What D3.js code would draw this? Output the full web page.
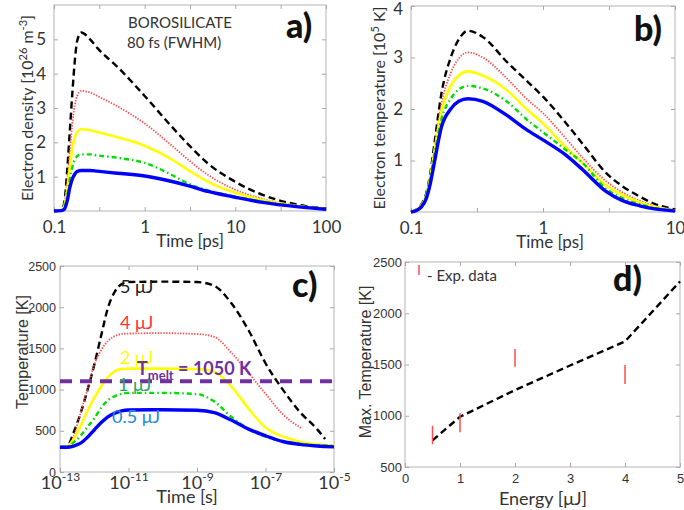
<!DOCTYPE html>
<html><head><meta charset="utf-8">
<script src="https://cdn.jsdelivr.net/npm/d3@7"></script>
<style>body{margin:0;background:#fff}svg{display:block}</style>
</head><body><svg id="c" width="684" height="510"></svg>
<script>
// ---------- DATA ----------
// Panel a: electron density [1e26 m^-3] vs time [ps]
const timeA = [0.1,0.12,0.13,0.14,0.15,0.16,0.17,0.18,0.2,0.25,0.3,0.5,1,2,3,5,10,20,50,100];
const densA5  = [0,0.02,0.25,1.2,2.4,3.5,4.4,4.95,5.2,5.0,4.75,4.2,3.35,2.45,1.95,1.38,0.85,0.47,0.18,0.07];
const densA4  = [0,0.02,0.2,0.9,1.8,2.6,3.1,3.35,3.5,3.45,3.35,3.05,2.55,1.9,1.5,1.05,0.62,0.35,0.15,0.06];
const densA2  = [0,0.02,0.15,0.6,1.3,1.85,2.15,2.3,2.38,2.35,2.3,2.15,1.9,1.5,1.2,0.85,0.53,0.32,0.14,0.06];
const densA1  = [0,0.02,0.1,0.45,0.95,1.3,1.5,1.6,1.65,1.65,1.62,1.55,1.4,1.05,0.8,0.6,0.42,0.27,0.13,0.06];
const densA05 = [0,0.01,0.05,0.3,0.7,0.95,1.08,1.15,1.18,1.18,1.16,1.1,1.02,0.86,0.74,0.57,0.4,0.25,0.12,0.05];
const ticksA = [0.1,1,10,100];

// Panel b: electron temperature [1e5 K] vs time [ps]
const timeB = [0.1,0.11,0.12,0.13,0.14,0.15,0.17,0.2,0.23,0.27,0.35,0.53,0.75,1,1.5,2,3,4,5.4,7,10];
const tempB5  = [0,0.05,0.15,0.35,0.75,1.3,2.3,3.0,3.35,3.52,3.4,2.92,2.55,2.24,1.72,1.32,0.76,0.5,0.3,0.16,0.05];
const tempB4  = [0,0.05,0.14,0.33,0.7,1.2,2.1,2.7,2.98,3.1,3.0,2.6,2.2,1.92,1.42,1.05,0.6,0.38,0.22,0.12,0.04];
const tempB2  = [0,0.04,0.13,0.31,0.68,1.15,1.95,2.45,2.65,2.73,2.65,2.37,2.0,1.72,1.25,0.95,0.52,0.33,0.19,0.1,0.03];
const tempB1  = [0,0.04,0.12,0.3,0.65,1.1,1.8,2.2,2.38,2.45,2.4,2.15,1.8,1.55,1.2,0.95,0.45,0.27,0.15,0.08,0.03];
const tempB05 = [0,0.03,0.1,0.25,0.55,0.95,1.65,2.0,2.15,2.2,2.15,1.88,1.6,1.4,1.1,0.82,0.4,0.22,0.12,0.06,0.02];
const ticksB = [0.1,1,10];

// Panel c: lattice temperature [K] vs time [s]
const timeC = [1e-13,1.6e-13,2.5e-13,4e-13,6.3e-13,1e-12,1.6e-12,2.5e-12,4e-12,6.3e-12,1e-11,1e-10,1e-9,3.2e-9,1e-8,3.2e-8,1e-7,3.2e-7,1e-6,3.2e-6,1e-5];
const tempC5  = [300,310,480,715,990,1300,1660,1990,2190,2280,2305,2310,2305,2260,2050,1720,1320,1000,730,520,null];
const tempC4  = [300,305,430,720,1000,1300,1480,1590,1650,1675,1680,1685,1675,1640,1450,1200,950,700,545,null,null];
const tempC2  = [300,310,400,560,740,900,1040,1150,1225,1250,1255,1255,1250,1215,1040,770,540,430,368,335,318];
const tempC1  = [300,305,360,440,545,650,780,870,920,950,960,960,945,855,670,520,430,370,340,325,318];
const tempC05 = [300,300,315,350,420,510,600,670,715,742,752,755,750,720,630,520,440,370,335,315,305];
const tailC5 = [[5.5e-6,400]];
const tailC4 = [[1.15e-6,530]];
const tMelt = 1100;
const ticksC = [1e-13,1e-11,1e-9,1e-7,1e-5];
const labelsC = ["-13","-11","-9","-7","-5"];
const ticksCY = [0,500,1000,1500,2000,2500];

// Panel d: max temperature vs energy
const energyD = [0.5,1,2,3,4,5];
const maxTempD = [760,990,1250,1490,1725,2310];
const expEnergy = [0.5,1,2,4];
const expLow  = [722,839,1478,1310];
const expHigh = [903,1024,1651,1495];
const ticksDX = [0,1,2,3,4,5];
const ticksDY = [500,1000,1500,2000,2500];

// ---------- DRAW ----------
const svg = d3.select('#c');
svg.append('rect').attr('width',684).attr('height',510).attr('fill','#fff');

const SANS = 'Lato, "Open Sans", sans-serif';
const ARIAL = '"Liberation Sans", Arial, sans-serif';
const fmt = d => String(d);
const styles = {
  k5:  {stroke:'#000', w:2.4, dash:'7,4'},
  k4:  {stroke:'#ff4d4d', w:1.8, dash:'1.4,1.4'},
  k2:  {stroke:'#ffff00', w:2.6, dash:null},
  k1:  {stroke:'#00dd00', w:2.4, dash:'5,3,1.5,3'},
  k05: {stroke:'#0000ff', w:3.4, dash:null}
};

function box(x0,x1,y0,y1){
  svg.append('rect').attr('x',x0).attr('y',y0).attr('width',x1-x0).attr('height',y1-y0)
    .attr('fill','none').attr('stroke','#b4b4b4').attr('stroke-width',1);
}
function styleAxis(g, fontFam, fontSize){
  g.select('.domain').remove();
  g.selectAll('.tick line').attr('stroke','#a8a8a8');
  g.selectAll('.tick text').attr('fill','#333').style('font-family',fontFam).style('font-size',fontSize+'px');
}
function drawLine(x,y,pts,st,curve){
  const line = d3.line().x(d=>x(d[0])).y(d=>y(d[1])).curve(curve || d3.curveMonotoneX);
  svg.append('path').datum(pts).attr('d',line).attr('fill','none')
    .attr('stroke',st.stroke).attr('stroke-width',st.w)
    .attr('stroke-dasharray',st.dash).attr('stroke-linejoin','round');
}
function zip(xs,ys){ return xs.map((x,i)=>[x,ys[i]]).filter(d=>d[1]!=null); }

// ===== Panel a =====
{
  const x = d3.scaleLog().domain([0.1,100]).range([54,326]);
  const y = d3.scaleLinear().domain([0,6]).range([211,5]);
  box(54,326,5,211);
  const half = [0.1,0.316,1,3.16,10,31.6,100];
  const gx = svg.append('g').attr('transform','translate(0,211)')
    .call(d3.axisBottom(x).tickValues(half).tickSize(-4).tickPadding(10)
      .tickFormat(d=> ticksA.includes(d) ? fmt(d) : ''));
  styleAxis(gx,SANS,17);
  const gt = svg.append('g').attr('transform','translate(0,5)')
    .call(d3.axisTop(x).tickValues(half).tickSize(-4).tickFormat(''));
  styleAxis(gt,SANS,17);
  const gy = svg.append('g').attr('transform','translate(54,0)')
    .call(d3.axisLeft(y).tickValues([1,2,3,4,5]).tickSize(-4).tickPadding(8).tickFormat(fmt));
  styleAxis(gy,SANS,17);
  const gr = svg.append('g').attr('transform','translate(326,0)')
    .call(d3.axisRight(y).tickValues([1,2,3,4,5]).tickSize(-4).tickFormat(''));
  styleAxis(gr,SANS,17);

  drawLine(x,y,zip(timeA,densA5),styles.k5);
  drawLine(x,y,zip(timeA,densA4),styles.k4);
  drawLine(x,y,zip(timeA,densA2),styles.k2);
  drawLine(x,y,zip(timeA,densA1),styles.k1);
  drawLine(x,y,zip(timeA,densA05),styles.k05);

  const yl = svg.append('text').attr('transform','translate(33,108) rotate(-90)')
    .attr('text-anchor','middle').style('font-family',SANS).style('font-size','16px').attr('fill','#333');
  yl.append('tspan').text('Electron density [10');
  yl.append('tspan').attr('dy',-6).style('font-size','11px').text('26');
  yl.append('tspan').attr('dy',6).text(' m');
  yl.append('tspan').attr('dy',-6).style('font-size','11px').text('-3');
  yl.append('tspan').attr('dy',6).text(']');
  svg.append('text').attr('x',190).attr('y',247).attr('text-anchor','middle')
    .style('font-family',SANS).style('font-size','17px').attr('fill','#333').text('Time [ps]');
  svg.append('text').attr('x',128).attr('y',28).style('font-family',SANS).style('font-size','15px').attr('fill','#333').text('BOROSILICATE');
  svg.append('text').attr('x',127).attr('y',48).style('font-family',SANS).style('font-size','15px').attr('fill','#333').text('80 fs (FWHM)');
  svg.append('text').attr('x',286).attr('y',38).style('font-family',SANS).style('font-weight','900').style('font-size','34px').attr('fill','#111').text('a)');
}

// ===== Panel b =====
{
  const x = d3.scaleLog().domain([0.1,10]).range([411,675]);
  const y = d3.scaleLinear().domain([0,4]).range([212,6]);
  box(411,675,6,212);
  const half = [0.1,0.316,1,3.16,10];
  const gx = svg.append('g').attr('transform','translate(0,212)')
    .call(d3.axisBottom(x).tickValues(half).tickSize(-4).tickPadding(10)
      .tickFormat(d=> ticksB.includes(d) ? fmt(d) : ''));
  styleAxis(gx,SANS,17);
  const gt = svg.append('g').attr('transform','translate(0,6)')
    .call(d3.axisTop(x).tickValues(half).tickSize(-4).tickFormat(''));
  styleAxis(gt,SANS,17);
  const gy = svg.append('g').attr('transform','translate(411,0)')
    .call(d3.axisLeft(y).tickValues([1,2,3,4]).tickSize(-4).tickPadding(8).tickFormat(fmt));
  styleAxis(gy,SANS,17);
  gy.selectAll('.tick text').filter(d=>d===4).attr('dy','0.5em');
  const gr = svg.append('g').attr('transform','translate(675,0)')
    .call(d3.axisRight(y).tickValues([1,2,3,4]).tickSize(-4).tickFormat(''));
  styleAxis(gr,SANS,17);

  drawLine(x,y,zip(timeB,tempB5),styles.k5);
  drawLine(x,y,zip(timeB,tempB4),styles.k4);
  drawLine(x,y,zip(timeB,tempB2),styles.k2);
  drawLine(x,y,zip(timeB,tempB1),styles.k1);
  drawLine(x,y,zip(timeB,tempB05),styles.k05);

  const yl = svg.append('text').attr('transform','translate(385,108) rotate(-90)')
    .attr('text-anchor','middle').style('font-family',SANS).style('font-size','16px').attr('fill','#333');
  yl.append('tspan').text('Electron temperature [10');
  yl.append('tspan').attr('dy',-6).style('font-size','11px').text('5');
  yl.append('tspan').attr('dy',6).text(' K]');
  svg.append('text').attr('x',550).attr('y',248).attr('text-anchor','middle')
    .style('font-family',SANS).style('font-size','17px').attr('fill','#333').text('Time [ps]');
  svg.append('text').attr('x',634).attr('y',41).style('font-family',SANS).style('font-weight','900').style('font-size','34px').attr('fill','#111').text('b)');
}

// ===== Panel c =====
{
  const x = d3.scaleLog().domain([1e-13,1e-5]).range([60,334]);
  const y = d3.scaleLinear().domain([0,2500]).range([472,266]);
  box(60,334,266,472);
  const gx = svg.append('g').attr('transform','translate(0,472)')
    .call(d3.axisBottom(x).tickValues(ticksC).tickSize(-4).tickPadding(10).tickFormat(''));
  styleAxis(gx,SANS,18);
  gx.selectAll('.tick text').each(function(d,i){
    const t = d3.select(this).attr('dy',null).attr('y',null).attr('transform','translate(0,17)');
    t.append('tspan').text('10');
    t.append('tspan').attr('dy',-8).style('font-size','12px').text(labelsC[i]);
  });
  const gt = svg.append('g').attr('transform','translate(0,266)')
    .call(d3.axisTop(x).tickValues(ticksC).tickSize(-4).tickFormat(''));
  styleAxis(gt,SANS,17);
  const gy = svg.append('g').attr('transform','translate(60,0)')
    .call(d3.axisLeft(y).tickValues(ticksCY).tickSize(-4).tickPadding(4).tickFormat(fmt));
  styleAxis(gy,ARIAL,12.5);
  const gr = svg.append('g').attr('transform','translate(334,0)')
    .call(d3.axisRight(y).tickValues(ticksCY).tickSize(-4).tickFormat(''));
  styleAxis(gr,ARIAL,12.5);

  drawLine(x,y,zip(timeC,tempC5).concat(tailC5),styles.k5);
  drawLine(x,y,zip(timeC,tempC4).concat(tailC4),styles.k4);
  drawLine(x,y,zip(timeC,tempC2),styles.k2);
  drawLine(x,y,zip(timeC,tempC1),styles.k1);
  drawLine(x,y,zip(timeC,tempC05),styles.k05);

  // T_melt line
  svg.append('line').attr('x1',x(1e-13)).attr('x2',x(1e-5)).attr('y1',y(tMelt)).attr('y2',y(tMelt))
    .attr('stroke','#7030a0').attr('stroke-width',4).attr('stroke-dasharray','12,8');

  const lab = (tx,ty,txt,col)=> svg.append('text').attr('x',tx).attr('y',ty)
    .style('font-family',SANS).style('font-size','18px').attr('fill',col).text(txt);
  lab(120,293,'5 μJ','#222');
  lab(120,329,'4 μJ','#ff3333');
  lab(120,364,'2 μJ','#ffff00');
  lab(118,391,'1 μJ','#2aa36a');
  lab(112,423,'0.5 μJ','#1f8ad6');
  const tm = svg.append('text').attr('x',137).attr('y',375).style('font-family',SANS)
    .style('font-weight','bold').style('font-size','18px').attr('fill','#7030a0');
  tm.append('tspan').text('T');
  tm.append('tspan').attr('dy',5).style('font-size','13px').text('melt');
  tm.append('tspan').attr('dy',-5).text(' = 1050 K');

  svg.append('text').attr('transform','translate(28,352) rotate(-90)')
    .attr('text-anchor','middle').style('font-family',ARIAL).style('font-size','16px').attr('fill','#333').text('Temperature [K]');
  svg.append('text').attr('x',187).attr('y',503).attr('text-anchor','middle')
    .style('font-family',SANS).style('font-size','18px').attr('fill','#333').text('Time [s]');
  svg.append('text').attr('x',292).attr('y',297).style('font-family',SANS).style('font-weight','900').style('font-size','34px').attr('fill','#111').text('c)');
}

// ===== Panel d =====
{
  const x = d3.scaleLinear().domain([0,5]).range([405,680]);
  const y = d3.scaleLinear().domain([500,2500]).range([467,262]);
  box(405,680,262,467);
  const gx = svg.append('g').attr('transform','translate(0,467)')
    .call(d3.axisBottom(x).tickValues(ticksDX).tickSize(-4).tickPadding(7).tickFormat(fmt));
  styleAxis(gx,ARIAL,13);
  const gt = svg.append('g').attr('transform','translate(0,262)')
    .call(d3.axisTop(x).tickValues(ticksDX).tickSize(-4).tickFormat(''));
  styleAxis(gt,ARIAL,13);
  const gy = svg.append('g').attr('transform','translate(405,0)')
    .call(d3.axisLeft(y).tickValues(ticksDY).tickSize(-4).tickPadding(3).tickFormat(fmt));
  styleAxis(gy,ARIAL,13);
  const gr = svg.append('g').attr('transform','translate(680,0)')
    .call(d3.axisRight(y).tickValues(ticksDY).tickSize(-4).tickFormat(''));
  styleAxis(gr,ARIAL,13);

  drawLine(x,y,zip(energyD,maxTempD),{stroke:'#000',w:2.4,dash:'7,4'},d3.curveLinear);
  svg.append('g').selectAll('line').data(expEnergy).join('line')
    .attr('x1',d=>x(d)).attr('x2',d=>x(d))
    .attr('y1',(d,i)=>y(expLow[i])).attr('y2',(d,i)=>y(expHigh[i]))
    .attr('stroke','#ff4d4d').attr('stroke-width',1.5);

  svg.append('line').attr('x1',419).attr('x2',419).attr('y1',265).attr('y2',275)
    .attr('stroke','#ff4d4d').attr('stroke-width',1.5);
  svg.append('text').attr('x',427).attr('y',281).style('font-family',SANS).style('font-size','15px').attr('fill','#333').text('- Exp. data');

  svg.append('text').attr('transform','translate(371,362) rotate(-90)')
    .attr('text-anchor','middle').style('font-family',ARIAL).style('font-size','16px').attr('fill','#333').text('Max. Temperature [K]');
  svg.append('text').attr('x',543).attr('y',505).attr('text-anchor','middle')
    .style('font-family',SANS).style('font-size','18px').attr('fill','#333').text('Energy [μJ]');
  svg.append('text').attr('x',613).attr('y',291).style('font-family',SANS).style('font-weight','900').style('font-size','34px').attr('fill','#111').text('d)');
}
</script></body></html>
